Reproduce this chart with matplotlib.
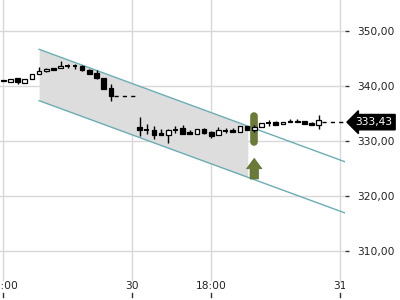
import numpy as np
import matplotlib
matplotlib.use('Agg')
import matplotlib.pyplot as plt
import matplotlib.transforms as mtransforms

# datos de velas (indice, apertura, maximo, minimo, cierre)
idx = list(range(0, 16)) + list(range(19, 45))
opens = [341.1, 340.73, 341.4, 340.55, 341.22, 342.13, 342.73, 343.2, 343.22, 343.64,
         343.58, 343.64, 342.91, 342.42, 341.5, 339.7,
         332.6, 332.0, 332.0, 331.5, 331.15, 331.95, 332.36, 331.64, 331.22, 332.13,
         331.64, 331.1, 331.9, 332.05, 331.58, 332.73, 331.95, 332.55, 333.3, 333.4,
         333.04, 333.7, 333.6, 333.7, 333.2, 332.9]
highs = [341.1, 341.33, 341.5, 341.27, 342.24, 343.4, 343.33, 343.2, 344.55, 344.0,
         343.94, 343.76, 343.04, 342.85, 341.5, 340.36,
         334.42, 333.04, 332.78, 332.13, 332.13, 332.78, 332.9, 332.0, 332.13, 332.3,
         331.76, 332.55, 332.36, 332.42, 332.73, 332.73, 332.9, 333.27, 333.8, 333.64,
         333.45, 334.05, 333.95, 333.7, 333.4, 334.73]
lows = [340.9, 340.73, 340.3, 340.55, 341.22, 342.13, 342.5, 342.96, 343.22, 343.27,
        343.09, 342.78, 342.13, 341.33, 339.4, 337.33,
        330.85, 331.22, 330.42, 331.15, 329.7, 331.45, 331.27, 331.22, 331.22, 331.33,
        330.6, 331.04, 331.45, 331.58, 331.58, 331.95, 331.7, 332.55, 332.8, 332.85,
        333.04, 333.4, 333.4, 333.04, 332.9, 332.24]
closes = [340.9, 341.33, 340.73, 341.27, 342.24, 342.73, 343.15, 342.96, 343.64, 343.64,
          343.58, 342.85, 342.24, 341.4, 339.4, 338.1,
          332.05, 332.0, 331.15, 331.15, 332.0, 331.95, 331.33, 331.22, 332.13, 331.5,
          330.96, 331.95, 331.9, 331.58, 332.73, 331.95, 332.5, 333.27, 333.3, 332.9,
          333.45, 333.4, 333.4, 333.04, 332.9, 333.76]

# huecos sin operaciones (linea discontinua)
gap_x = [15.5, 18.5]
gap_price = 338.1
last_price = 333.43
last_x = [44.5, 47.7]

# canal de tendencia
chan_x = [5, 47.7]
chan_upper = [346.67, 326.2]
chan_lower = [337.33, 316.9]
shade_end = 34.1

signal_x = 35
capsule = [329.75, 334.55]
arrow = [323.1, 326.85]

xticks = [0, 18, 29, 47]
xlabels = ['12:00', '30', '18:00', '31']
yticks = [310, 320, 330, 340, 350]

green = '#6a7b38'
teal = '#6aaeb4'
gridc = '#d8d8d8'

fig = plt.figure(figsize=(4, 3), dpi=100)
ax = fig.add_axes([0, 0, 345 / 400, 1])
ax.set_xlim(-0.46, 47.66)
ax.set_ylim(301.09, 355.64)
for s in ax.spines.values():
    s.set_visible(False)

# rejilla
for y in yticks:
    ax.axhline(y, color=gridc, lw=1, zorder=0)
for x in xticks:
    ax.axvline(x, ymin=20 / 300, ymax=1, color=gridc, lw=1, zorder=0)
    ax.axvline(x, ymin=3 / 300, ymax=7 / 300, color='#333333', lw=1)

# canal
xs = np.linspace(chan_x[0], shade_end, 50)
up = np.interp(xs, chan_x, chan_upper)
lo = np.interp(xs, chan_x, chan_lower)
ax.fill_between(xs, lo, up, color='#dddddd', lw=0, zorder=1)
ax.plot(chan_x, chan_upper, color=teal, lw=1, zorder=2)
ax.plot(chan_x, chan_lower, color=teal, lw=1, zorder=2)

# senal
ax.plot([signal_x, signal_x], capsule, color=green, lw=5.5, solid_capstyle='round', zorder=3)
ax.annotate('', xy=(signal_x, arrow[1]), xytext=(signal_x, arrow[0]),
            arrowprops=dict(arrowstyle='simple,head_length=0.75,head_width=1.1,tail_width=0.6',
                            mutation_scale=10, fc=green, ec='#5a6a2e', lw=0.5,
                            shrinkA=0, shrinkB=0), zorder=3)

# velas
w = 0.65
for x, o, h, l, c in zip(idx, opens, highs, lows, closes):
    ax.vlines(x, l, h, color='black', lw=1, zorder=4)
    if abs(c - o) < 0.05:
        ax.hlines(o, x - w / 2, x + w / 2, color='black', lw=1.4, zorder=5)
    elif c > o:
        ax.bar(x, c - o, w, o, facecolor='white', edgecolor='black', lw=0.9, zorder=5)
    else:
        ax.bar(x, o - c, w, c, facecolor='black', edgecolor='black', lw=0.9, zorder=5)

ax.plot(gap_x, [gap_price, gap_price], color='black', lw=1, dashes=(3, 3), zorder=4)
ax.plot(last_x, [last_price, last_price], color='black', lw=1, dashes=(3, 3), zorder=4)

# etiquetas eje x (recortadas al area)
xtrans = mtransforms.blended_transform_factory(ax.transData, ax.transAxes)
for x, lab in zip(xticks, xlabels):
    ax.text(x, 14 / 300, lab, transform=xtrans, ha='center', va='center',
            fontsize=7.7, color='#222222', clip_on=True)

# eje y a la derecha
ax.yaxis.tick_right()
ax.set_yticks(yticks)
ax.set_yticklabels([f'{v:.2f}'.replace('.', ',') for v in yticks])
ax.tick_params(axis='y', length=3, width=1, color='#333333', pad=6, labelsize=7.7, labelcolor='#222222')
ax.set_xticks([])

trans = mtransforms.blended_transform_factory(ax.transAxes, ax.transData)
ax.text(1.03, last_price, f'{last_price:.2f}'.replace('.', ','), transform=trans,
        ha='left', va='center', fontsize=7.7, color='white', clip_on=False,
        bbox=dict(boxstyle='larrow,pad=0.25', fc='black', ec='black'))

fig.savefig('out.png', dpi=100)
